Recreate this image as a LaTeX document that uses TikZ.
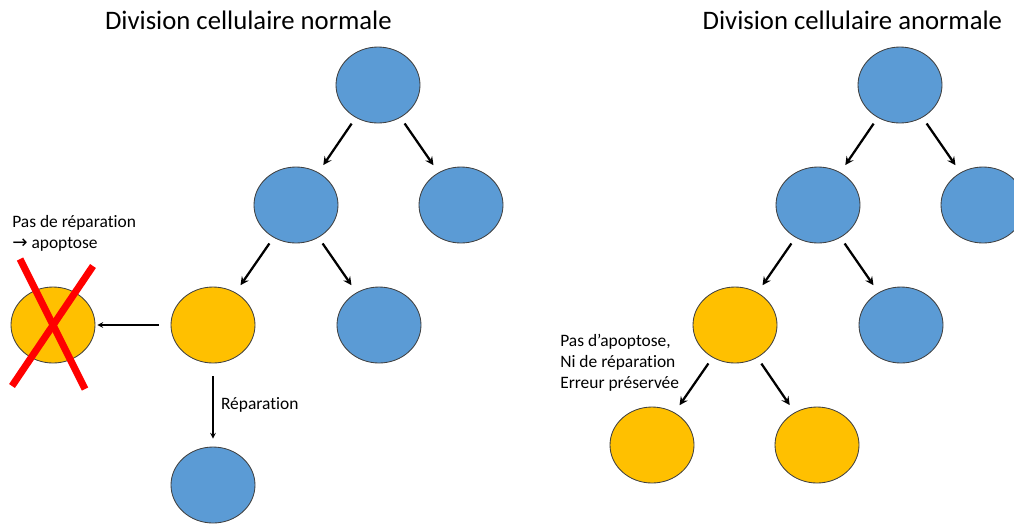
\documentclass[tikz,border=0pt]{standalone}
\usepackage{fontspec}
\setmainfont[Ligatures=NoCommon]{Carlito}
\newfontfamily\symfont{DejaVu Sans}
\usepackage{xcolor}
\usepackage{tikz}
\usetikzlibrary{shapes.geometric, arrows}
\definecolor{cellblue}{HTML}{5B9BD5}
\definecolor{cellyellow}{HTML}{FFC000}
\tikzstyle{cell} = [ellipse, minimum width=2.1cm, minimum height=1.9cm, inner sep=0pt, draw=black!75, line width=0.6pt, fill=cellblue]
\tikzstyle{faulty} = [cell, fill=cellyellow]
\tikzstyle{arrow} = [line width=1.6pt,->,>=stealth, shorten <=0.18cm, shorten >=0.22cm]
\tikzstyle{thinarrow} = [line width=0.8pt,->,>=stealth]
\tikzstyle{titletext} = [font=\fontsize{19}{23}\selectfont]
\tikzstyle{notetext} = [align=left, font=\fontsize{12.4}{15}\selectfont, inner sep=0pt]
\tikzstyle{crossline} = [red, line width=5pt]

\begin{document}
\begin{tikzpicture}[node distance=3cm]
\useasboundingbox (0,0) rectangle (25.35,-13.15);

% normal division
\node (title1) [titletext] at (6.21,-0.5) {Division cellulaire normale};
\node (top1) [cell] at (9.45,-2.125) {};
\node (l1) [cell, below of=top1, xshift=-2.05cm] {};
\node (r1) [cell, below of=top1, xshift=2.075cm] {};
\node (yel1) [faulty, below of=l1, xshift=-2.075cm] {};
\node (b1) [cell, below of=l1, xshift=2.075cm] {};
\node (dead) [faulty, left of=yel1, xshift=-1cm] {};
\node (rep) [cell, below of=yel1, yshift=-1cm] {};
\node (note1) [notetext, anchor=west] at (0.3,-5.84) {Pas de réparation\\{\symfont\fontsize{13}{15}\selectfont →} apoptose};

\draw[arrow] (top1) -- (l1);
\draw[arrow] (top1) -- (r1);
\draw[arrow] (l1) -- (yel1);
\draw[arrow] (l1) -- (b1);
\draw[thinarrow, shorten <=0.3cm, shorten >=0.05cm] (yel1) -- (dead);
\draw[thinarrow, shorten <=0.32cm, shorten >=0.2cm] (yel1) -- node[right, xshift=2pt, font=\fontsize{12.4}{15}\selectfont] {Réparation} (rep);
\draw[crossline] ([shift={(-0.825,1.65)}]dead.center) -- ([shift={(0.8,-1.6)}]dead.center);
\draw[crossline] ([shift={(1.0,1.475)}]dead.center) -- ([shift={(-1.025,-1.525)}]dead.center);

% abnormal division
\node (title2) [titletext] at (21.31,-0.5) {Division cellulaire anormale};
\node (top2) [cell] at (22.5,-2.125) {};
\node (l2) [cell, below of=top2, xshift=-2.05cm] {};
\node (r2) [cell, below of=top2, xshift=2.075cm] {};
\node (yel2) [faulty, below of=l2, xshift=-2.075cm] {};
\node (b2) [cell, below of=l2, xshift=2.075cm] {};
\node (yel3) [faulty, below of=yel2, xshift=-2.075cm] {};
\node (yel4) [faulty, below of=yel2, xshift=2.05cm] {};
\node (note2) [notetext, anchor=west] at (14.0,-9.06) {Pas d’apoptose,\\Ni de réparation\\Erreur préservée};

\draw[arrow] (top2) -- (l2);
\draw[arrow] (top2) -- (r2);
\draw[arrow] (l2) -- (yel2);
\draw[arrow] (l2) -- (b2);
\draw[arrow] (yel2) -- (yel3);
\draw[arrow] (yel2) -- (yel4);

\end{tikzpicture}
\end{document}
